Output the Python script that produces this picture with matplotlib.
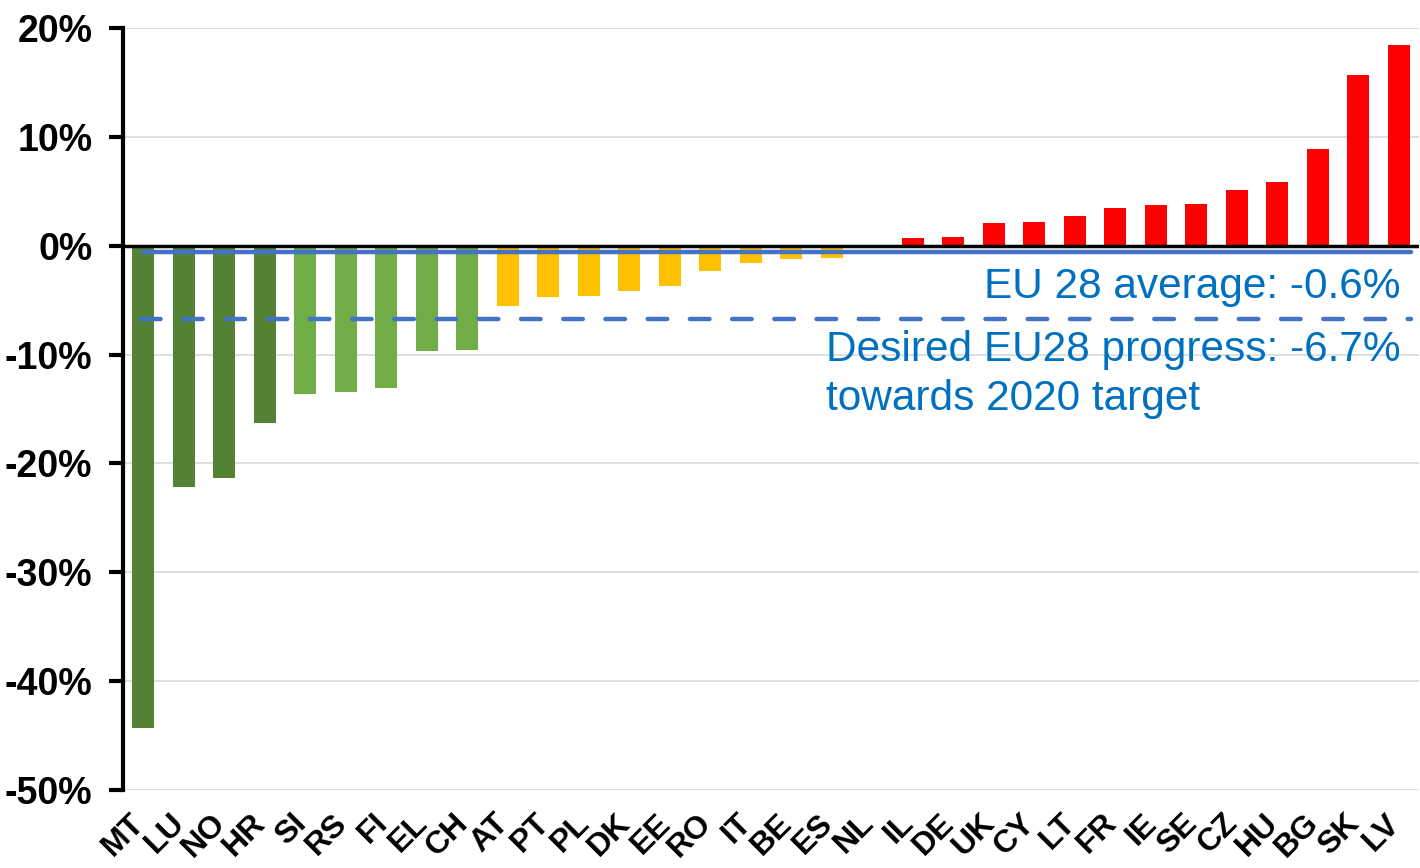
import matplotlib.pyplot as plt
import matplotlib.transforms as mtransforms
import numpy as np

countries = ['MT', 'LU', 'NO', 'HR', 'SI', 'RS', 'FI', 'EL', 'CH', 'AT', 'PT', 'PL',
             'DK', 'EE', 'RO', 'IT', 'BE', 'ES', 'NL', 'IL', 'DE', 'UK', 'CY', 'LT',
             'FR', 'IE', 'SE', 'CZ', 'HU', 'BG', 'SK', 'LV']
change = [-44.3, -22.2, -21.3, -16.3, -13.6, -13.4, -13.1, -9.7, -9.6, -5.5, -4.7, -4.6,
          -4.2, -3.7, -2.3, -1.6, -1.2, -1.1, -0.1, 0.7, 0.8, 2.1, 2.2, 2.7,
          3.5, 3.7, 3.8, 5.1, 5.9, 8.9, 15.7, 18.4]
groups = ['dark'] * 4 + ['light'] * 5 + ['yellow'] * 10 + ['red'] * 13

eu_average = -0.6
eu_desired = -6.7

group_colors = {'dark': '#548235', 'light': '#70AD47', 'yellow': '#FFC000', 'red': '#FF0000'}

plt.rcParams['font.family'] = ['Liberation Sans', 'DejaVu Sans']

fig = plt.figure(figsize=(14.2, 8.68), dpi=100)
ax = fig.add_axes([0.0866, 0.0899, 0.9128, 0.8778])

x = np.arange(len(countries))
ax.bar(x, change, width=0.54, color=[group_colors[g] for g in groups], zorder=2)

ax.axhline(0, color='black', linewidth=2.5, zorder=3)
ax.plot([0, 31.3], [eu_average, eu_average], color='#4472C4', linewidth=3.2,
        solid_capstyle='round', zorder=4)
ax.plot([-0.05, 31.3], [eu_desired, eu_desired], color='#4472C4', linewidth=3.2,
        linestyle=(0, (4.4, 5.1)), dash_capstyle='round', zorder=4)

ax.text(31.05, -3.75, f'EU 28 average: {eu_average}%', color='#0070C0', fontsize=30.5,
        ha='right', va='center')
ax.text(31.05, -7.75, f'Desired EU28 progress: {eu_desired}%\ntowards 2020 target',
        color='#0070C0', fontsize=30.5, ha='right', va='top', multialignment='left',
        linespacing=1.3)

ax.set_xlim(-0.5, 31.5)
ax.set_ylim(-50, 20)
ax.set_yticks(np.arange(-50, 21, 10))
ax.set_yticklabels([f'{v}%' for v in range(-50, 21, 10)], fontsize=27, fontweight='bold')
ax.yaxis.grid(True, color='#D9D9D9', linewidth=1.2, zorder=0)
ax.set_axisbelow(True)

ax.set_xticks(x)
ax.set_xticklabels(countries, fontsize=23, fontweight='bold', rotation=45,
                   ha='right', va='top', rotation_mode='anchor')
ax.tick_params(axis='x', length=0, pad=13)
ax.tick_params(axis='y', length=10, width=3, pad=12)
shift = mtransforms.ScaledTranslation(-14 / 100, 0, fig.dpi_scale_trans)
for lab in ax.get_xticklabels():
    lab.set_transform(lab.get_transform() + shift)

for side in ['top', 'right', 'bottom']:
    ax.spines[side].set_visible(False)
ax.spines['left'].set_linewidth(3)

plt.savefig('out.png', dpi=100, facecolor='white')
